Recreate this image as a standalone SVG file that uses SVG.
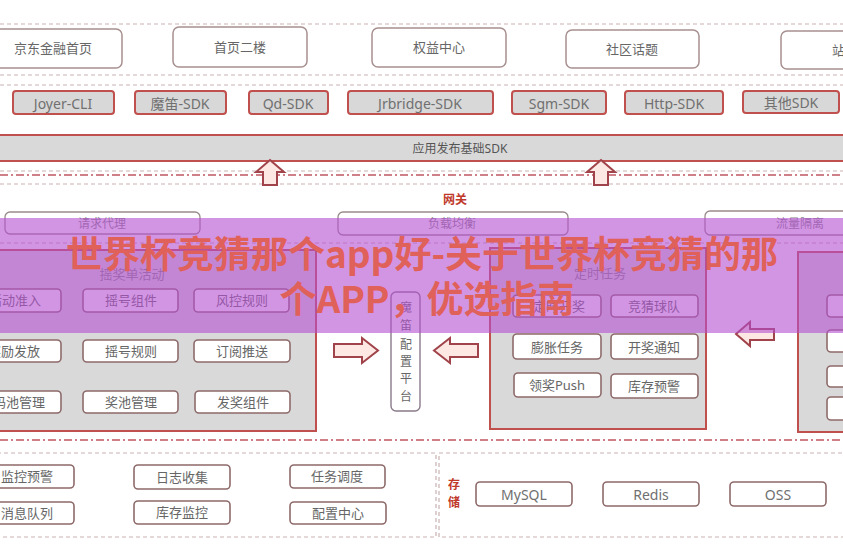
<svg xmlns="http://www.w3.org/2000/svg" width="843" height="552" viewBox="0 0 843 552">
<defs>
<style>
text{font-family:"Noto Sans","Noto Sans CJK SC",sans-serif;}
.dash{stroke:#c9b2b2;stroke-width:1.2;stroke-dasharray:4 3;fill:none;}
.dashdot{stroke:#c05560;stroke-width:1.5;stroke-dasharray:8 3 2 3;fill:none;}
.top{fill:#fff;stroke:#a89090;stroke-width:1.5;}
.sdk{fill:#d8d8d8;stroke:#c0504d;stroke-width:2;}
.panel{fill:#d9d9d9;stroke:#c0504d;stroke-width:2;}
.box{fill:#fff;stroke:#8e6a6a;stroke-width:1.6;}
.gw{fill:#fff;stroke:#9a8a8a;stroke-width:1.3;}
.t{font-size:13px;fill:#666;text-anchor:middle;dominant-baseline:central;}
.ts{font-size:14px;fill:#707070;text-anchor:middle;dominant-baseline:central;}
.red{font-size:12px;fill:#c0392b;font-weight:bold;text-anchor:middle;dominant-baseline:central;}
.arr{fill:#fde8e4;stroke:#a0434a;stroke-width:2;stroke-linejoin:miter;}
.wm{font-family:"Noto Sans CJK SC","Noto Sans",sans-serif;font-weight:bold;font-size:37px;fill:#e0605a;text-anchor:middle;}
</style>
</defs>
<rect width="843" height="552" fill="#fff"/>

<g id="guides">
<line class="dash" x1="0" y1="24" x2="843" y2="24"/>
<line class="dash" x1="0" y1="75" x2="843" y2="75"/>
<line class="dash" x1="0" y1="85" x2="843" y2="85"/>
<line class="dash" x1="0" y1="171" x2="843" y2="171"/>
<line class="dashdot" x1="0" y1="175" x2="843" y2="175"/>
<line class="dash" x1="0" y1="184" x2="843" y2="184"/>
<line class="dash" x1="0" y1="243" x2="843" y2="243"/>
<line class="dashdot" x1="0" y1="440" x2="843" y2="440"/>
<rect class="dash" x="-10" y="453" width="446" height="84"/>
<rect class="dash" x="439" y="453" width="420" height="84"/>
</g>

<!-- top row -->
<g id="n-jdhome"><rect class="top" x="-16" y="29" width="138" height="39" rx="6"/><text class="t" x="53" y="48">京东金融首页</text></g>
<g id="n-floor2"><rect class="top" x="173" y="27" width="134" height="40" rx="6"/><text class="t" x="240" y="47">首页二楼</text></g>
<g id="n-rights"><rect class="top" x="372" y="28" width="134" height="39" rx="6"/><text class="t" x="439" y="47">权益中心</text></g>
<g id="n-community"><rect class="top" x="566" y="30" width="133" height="38" rx="6"/><text class="t" x="632" y="49">社区话题</text></g>
<g id="n-site"><rect class="top" x="781" y="31" width="90" height="38" rx="6"/><text class="t" x="832" y="50" style="text-anchor:start">站</text></g>

<!-- SDK row -->
<g id="n-joyer"><rect class="sdk" x="13" y="91" width="101" height="23" rx="3"/><text class="ts" x="63" y="103">Joyer-CLI</text></g>
<g id="n-modi"><rect class="sdk" x="135" y="91" width="91" height="23" rx="3"/><text class="ts" x="180" y="103">魔笛-SDK</text></g>
<g id="n-qd"><rect class="sdk" x="249" y="91" width="79" height="23" rx="3"/><text class="ts" x="288" y="103">Qd-SDK</text></g>
<g id="n-jrbridge"><rect class="sdk" x="348" y="91" width="145" height="23" rx="3"/><text class="ts" x="420" y="103">Jrbridge-SDK</text></g>
<g id="n-sgm"><rect class="sdk" x="512" y="91" width="94" height="23" rx="3"/><text class="ts" x="559" y="103">Sgm-SDK</text></g>
<g id="n-http"><rect class="sdk" x="625" y="91" width="98" height="23" rx="3"/><text class="ts" x="674" y="103">Http-SDK</text></g>
<g id="n-other"><rect class="sdk" x="743" y="91" width="96" height="22" rx="3"/><text class="ts" x="791" y="102">其他SDK</text></g>

<g id="n-base"><rect x="-5" y="135" width="853" height="26" fill="#d9d9d9" stroke="#c0504d" stroke-width="2"/><text class="t" x="460" y="148" style="font-size:12px;fill:#555">应用发布基础SDK</text></g>

<!-- gateway -->
<g id="n-gateway-label"><text class="red" x="455" y="199">网关</text></g>
<g id="n-proxy"><rect class="gw" x="5" y="212" width="195" height="22" rx="5"/><text class="t" x="102" y="223" style="font-size:12px;fill:#888">请求代理</text></g>
<g id="n-lb"><rect class="gw" x="338" y="212" width="230" height="23" rx="5"/><text class="t" x="452" y="223" style="font-size:12px;fill:#888">负载均衡</text></g>
<g id="n-iso"><rect class="gw" x="705" y="211" width="190" height="24" rx="5"/><text class="t" x="800" y="223" style="font-size:12px;fill:#888">流量隔离</text></g>

<!-- left panel -->
<g id="n-panel-left">
<rect class="panel" x="-10" y="250" width="326" height="181"/>
<text class="t" x="132" y="274" style="fill:#888">摇奖单活动</text>
</g>
<g id="n-a1"><rect class="box" x="-33" y="289" width="94" height="23" rx="4"/><text class="t" x="15" y="300">活动准入</text></g>
<g id="n-a2"><rect class="box" x="83" y="289" width="95" height="23" rx="4"/><text class="t" x="131" y="300">摇号组件</text></g>
<g id="n-a3"><rect class="box" x="194" y="289" width="95" height="23" rx="4"/><text class="t" x="242" y="300">风控规则</text></g>
<g id="n-b1"><rect class="box" x="-33" y="340" width="94" height="22" rx="4"/><text class="t" x="14" y="351">奖励发放</text></g>
<g id="n-b2"><rect class="box" x="83" y="340" width="95" height="22" rx="4"/><text class="t" x="131" y="351">摇号规则</text></g>
<g id="n-b3"><rect class="box" x="194" y="340" width="96" height="22" rx="4"/><text class="t" x="242" y="351">订阅推送</text></g>
<g id="n-c1"><rect class="box" x="-33" y="391" width="94" height="22" rx="4"/><text class="t" x="19" y="402">码池管理</text></g>
<g id="n-c2"><rect class="box" x="83" y="391" width="95" height="22" rx="4"/><text class="t" x="131" y="402">奖池管理</text></g>
<g id="n-c3"><rect class="box" x="195" y="391" width="95" height="22" rx="4"/><text class="t" x="243" y="402">发奖组件</text></g>

<!-- config platform -->
<g id="n-config">
<rect x="391" y="292" width="29" height="119" rx="5" fill="#fff" stroke="#8a7a8a" stroke-width="1.4"/>
<text class="t" x="406" y="307" style="font-size:12px">魔</text>
<text class="t" x="406" y="325" style="font-size:12px">笛</text>
<text class="t" x="406" y="344" style="font-size:12px">配</text>
<text class="t" x="406" y="361" style="font-size:12px">置</text>
<text class="t" x="406" y="378" style="font-size:12px">平</text>
<text class="t" x="406" y="396" style="font-size:12px">台</text>
</g>

<!-- timed task panel -->
<g id="n-panel-timer">
<rect class="panel" x="490" y="248" width="216" height="181"/>
<text class="t" x="600" y="273" style="fill:#888">定时任务</text>
</g>
<g id="n-d1"><rect class="box" x="513" y="295" width="88" height="22" rx="4"/><text class="t" x="559" y="306">定时开奖</text></g>
<g id="n-d2"><rect class="box" x="611" y="295" width="87" height="22" rx="4"/><text class="t" x="654" y="306">竞猜球队</text></g>
<g id="n-e1"><rect class="box" x="513" y="334" width="88" height="25" rx="4"/><text class="t" x="557" y="347">膨胀任务</text></g>
<g id="n-e2"><rect class="box" x="611" y="334" width="87" height="25" rx="4"/><text class="t" x="654" y="347">开奖通知</text></g>
<g id="n-f1"><rect class="box" x="514" y="373" width="87" height="24" rx="4"/><text class="t" x="557" y="385">领奖Push</text></g>
<g id="n-f2"><rect class="box" x="611" y="374" width="87" height="24" rx="4"/><text class="t" x="654" y="386">库存预警</text></g>

<!-- right panel -->
<g id="n-panel-right">
<rect class="panel" x="798" y="252" width="60" height="180"/>
</g>
<g id="n-r1"><rect class="box" x="827" y="295" width="40" height="22" rx="4"/></g>
<g id="n-r2"><rect class="box" x="827" y="330" width="40" height="22" rx="4"/></g>
<g id="n-r3"><rect class="box" x="827" y="366" width="40" height="21" rx="4"/></g>
<g id="n-r4"><rect class="box" x="827" y="397" width="40" height="23" rx="4"/></g>

<!-- bottom -->
<g id="n-monitor"><rect class="box" x="-20" y="465" width="94" height="23" rx="4"/><text class="t" x="27" y="476">监控预警</text></g>
<g id="n-log"><rect class="box" x="134" y="465" width="96" height="24" rx="4"/><text class="t" x="182" y="477">日志收集</text></g>
<g id="n-sched"><rect class="box" x="290" y="465" width="95" height="23" rx="4"/><text class="t" x="337" y="476">任务调度</text></g>
<g id="n-mq"><rect class="box" x="-20" y="502" width="94" height="22" rx="4"/><text class="t" x="27" y="513">消息队列</text></g>
<g id="n-stock"><rect class="box" x="134" y="501" width="96" height="23" rx="4"/><text class="t" x="182" y="512">库存监控</text></g>
<g id="n-cfg"><rect class="box" x="290" y="502" width="96" height="22" rx="4"/><text class="t" x="338" y="513">配置中心</text></g>

<g id="n-storage-label"><text class="red" x="454" y="484">存</text><text class="red" x="454" y="502">储</text></g>
<g id="n-mysql"><rect class="box" x="476" y="482" width="96" height="24" rx="4"/><text class="ts" x="524" y="494">MySQL</text></g>
<g id="n-redis"><rect class="box" x="603" y="482" width="96" height="24" rx="4"/><text class="ts" x="651" y="494">Redis</text></g>
<g id="n-oss"><rect class="box" x="730" y="482" width="96" height="24" rx="4"/><text class="ts" x="778" y="494">OSS</text></g>

<!-- connectors -->
<g id="connectors">
<polygon class="arr" points="270,160 284,172 277,172 277,185 263,185 263,172 256,172"/>
<polygon class="arr" points="601,160 615,172 608,172 608,185 594,185 594,172 587,172"/>
<polygon class="arr" points="334,344 362,344 362,338 378,350.5 362,363 362,357 334,357"/>
<polygon class="arr" points="434,350.5 450,338 450,344 478,344 478,357 450,357 450,363"/>
<polygon class="arr" points="736,334 750,322 750,329 774,329 774,340 750,340 750,346"/>
</g>

<!-- watermark overlay -->
<g id="watermark">
<rect x="0" y="218" width="843" height="115" fill="#b44fd0" opacity="0.6"/>
<text class="wm" x="422" y="268">世界杯竞猜那个app好-关于世界杯竞猜的那</text>
<text class="wm" x="427" y="313">个APP，优选指南</text>
</g>
</svg>
